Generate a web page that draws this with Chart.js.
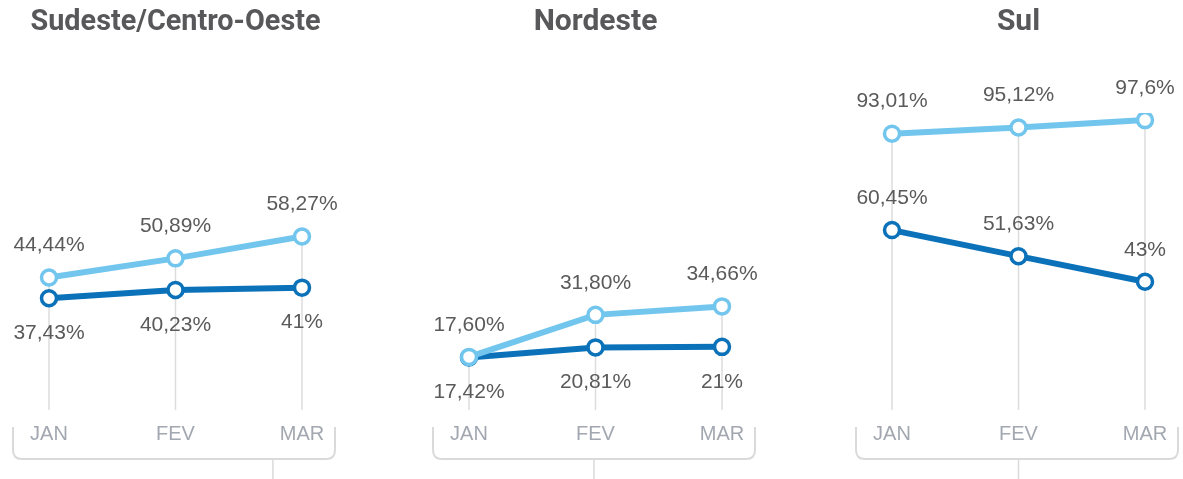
<!DOCTYPE html>
<html>
<head>
<meta charset="utf-8">
<script src="https://cdn.jsdelivr.net/npm/chart.js@4/dist/chart.umd.min.js"></script>
<style>
  html, body { margin: 0; padding: 0; background: #fff; }
  #wrap { position: relative; width: 1183px; height: 479px; overflow: hidden; }
  .panel { position: absolute; top: 0; width: 340px; height: 479px; }
</style>
</head>
<body>
<div id="wrap">
  <div class="panel" style="left:0px"><canvas id="chartSE"></canvas></div>
  <div class="panel" style="left:420px"><canvas id="chartNE"></canvas></div>
  <div class="panel" style="left:843px"><canvas id="chartS"></canvas></div>
</div>
<script>
// months on the x axis
var months = ['JAN', 'FEV', 'MAR'];

// Sudeste/Centro-Oeste
var seLight = [44.44, 50.89, 58.27];
var seDark = [37.43, 40.23, 41];
// Nordeste
var neLight = [17.60, 31.80, 34.66];
var neDark = [17.42, 20.81, 21];
// Sul
var sLight = [93.01, 95.12, 97.6];
var sDark = [60.45, 51.63, 43];

// decimals shown in the labels (the source is not consistent)
var seLightDec = [2, 2, 2], seDarkDec = [2, 2, 0];
var neLightDec = [2, 2, 2], neDarkDec = [2, 2, 0];
var sLightDec = [2, 2, 1], sDarkDec = [2, 2, 0];

var lightBlue = '#72c6ee';
var darkBlue = '#0b72b9';

function fmt(vals, decs) {
    return vals.map(function (v, i) {
        return v.toFixed(decs[i]).replace('.', ',') + '%';
    });
}

// panel title, centred over the plot
var panelTitle = {
    id: 'panelTitle',
    afterDraw: function (chart) {
        var ctx = chart.ctx, a = chart.chartArea;
        ctx.save();
        ctx.font = 'bold 30px Roboto, "Liberation Sans", sans-serif';
        ctx.fillStyle = '#58585a';
        ctx.textAlign = 'center';
        ctx.textBaseline = 'middle';
        ctx.fillText(chart.options.plugins.panelTitle.text, (a.left + a.right) / 2, 22, 290);
        ctx.restore();
    }
};

// vertical lines from the top point down to the bottom of the plot
var dropLines = {
    id: 'dropLines',
    beforeDatasetsDraw: function (chart) {
        var ctx = chart.ctx, x = chart.scales.x, y = chart.scales.y;
        ctx.save();
        ctx.strokeStyle = '#dcdcdc';
        ctx.lineWidth = 1.5;
        chart.data.labels.forEach(function (lab, i) {
            var top = Math.max.apply(null, chart.data.datasets.map(function (d) { return d.data[i]; }));
            var px = x.getPixelForValue(i);
            ctx.beginPath();
            ctx.moveTo(px, y.getPixelForValue(top));
            ctx.lineTo(px, chart.chartArea.bottom + 1);
            ctx.stroke();
        });
        ctx.restore();
    }
};

// value labels above / below each point
var valueLabels = {
    id: 'valueLabels',
    afterDatasetsDraw: function (chart) {
        var ctx = chart.ctx;
        ctx.save();
        ctx.font = '21px "Liberation Sans", Arial, sans-serif';
        ctx.fillStyle = '#5a5a5a';
        ctx.textAlign = 'center';
        ctx.textBaseline = 'middle';
        chart.data.datasets.forEach(function (ds, di) {
            var meta = chart.getDatasetMeta(di);
            meta.data.forEach(function (pt, i) {
                var off = ds.labelPos[i] === 'below' ? 35 : -32;
                ctx.fillText(ds.labelText[i], pt.x, pt.y + off);
            });
        });
        ctx.restore();
    }
};

// rounded bracket under the month labels
var bracket = {
    id: 'bracket',
    afterDraw: function (chart) {
        var ctx = chart.ctx, a = chart.chartArea;
        var o = chart.options.plugins.bracket;
        var l = a.left - 36, r = a.right + 33, t = 427, b = 459, rad = 9;
        ctx.save();
        ctx.strokeStyle = '#dadada';
        ctx.lineWidth = 2;
        ctx.beginPath();
        ctx.moveTo(l, t);
        ctx.lineTo(l, b - rad);
        ctx.quadraticCurveTo(l, b, l + rad, b);
        ctx.lineTo(r - rad, b);
        ctx.quadraticCurveTo(r, b, r, b - rad);
        ctx.lineTo(r, t);
        ctx.stroke();
        var tx = a.left + (a.right - a.left) * o.stem;
        ctx.lineWidth = 1.5;
        ctx.beginPath();
        ctx.moveTo(tx, b);
        ctx.lineTo(tx, chart.height);
        ctx.stroke();
        ctx.restore();
    }
};

function makeChart(id, title, light, dark, lightText, darkText, lightPos, darkPos, stem) {
    return new Chart(document.getElementById(id), {
        type: 'line',
        data: {
            labels: months,
            datasets: [{
                data: light,
                labelText: lightText,
                labelPos: lightPos,
                borderColor: lightBlue,
                backgroundColor: '#ffffff',
                borderWidth: 6,
                pointRadius: 7.5,
                pointBorderWidth: 3.5,
                pointBackgroundColor: '#ffffff',
                pointBorderColor: lightBlue
            }, {
                data: dark,
                labelText: darkText,
                labelPos: darkPos,
                borderColor: darkBlue,
                backgroundColor: '#ffffff',
                borderWidth: 6,
                pointRadius: 7.5,
                pointBorderWidth: 3.5,
                pointBackgroundColor: '#ffffff',
                pointBorderColor: darkBlue
            }]
        },
        options: {
            responsive: false,
            animation: false,
            layout: { padding: { left: 49, right: 38, top: 113, bottom: 20 } },
            plugins: {
                legend: { display: false },
                tooltip: { enabled: false },
                title: { display: false },
                panelTitle: { text: title },
                bracket: { stem: stem }
            },
            scales: {
                x: {
                    offset: false,
                    grid: { display: false, drawTicks: false },
                    border: { display: false },
                    ticks: {
                        color: '#a2a7b0',
                        padding: 13,
                        font: { family: '"Liberation Sans", Arial, sans-serif', size: 20 }
                    }
                },
                y: {
                    display: false,
                    min: 0,
                    max: 100
                }
            }
        },
        plugins: [dropLines, valueLabels, bracket, panelTitle]
    });
}

function sizeCanvas(id) {
    var c = document.getElementById(id);
    c.width = 340;
    c.height = 479;
    c.style.width = '340px';
    c.style.height = '479px';
}
['chartSE', 'chartNE', 'chartS'].forEach(sizeCanvas);

makeChart('chartSE', 'Sudeste/Centro-Oeste', seLight, seDark,
    fmt(seLight, seLightDec), fmt(seDark, seDarkDec),
    ['above', 'above', 'above'], ['below', 'below', 'below'], 0.885);
makeChart('chartNE', 'Nordeste', neLight, neDark,
    fmt(neLight, neLightDec), fmt(neDark, neDarkDec),
    ['above', 'above', 'above'], ['below', 'below', 'below'], 0.494);
makeChart('chartS', 'Sul', sLight, sDark,
    fmt(sLight, sLightDec), fmt(sDark, sDarkDec),
    ['above', 'above', 'above'], ['above', 'above', 'above'], 0.5);
</script>
</body>
</html>
